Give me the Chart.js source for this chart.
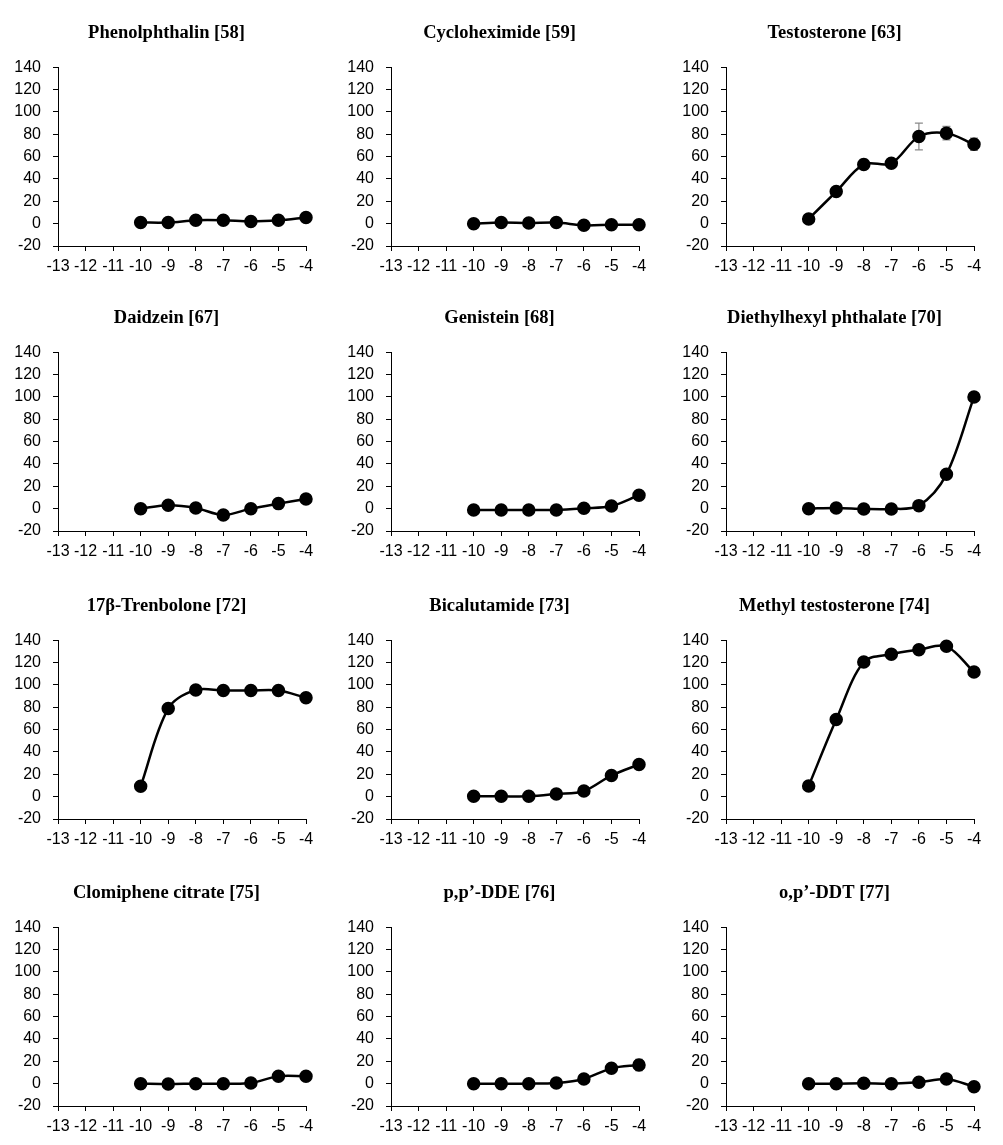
<!DOCTYPE html>
<html>
<head>
<meta charset="utf-8">
<script src="https://cdn.jsdelivr.net/npm/chart.js@4.4.0/dist/chart.umd.min.js"></script>
<style>
  body { margin: 0; background: #fff; }
  #wrap { position: relative; width: 1003px; height: 1145px; }
  .panel { position: absolute; }
</style>
</head>
<body>
<div id="wrap"></div>
<script>
// log concentration (M) for every compound
const concentrations = [-10, -9, -8, -7, -6, -5, -4];
const xTicks = [-13, -12, -11, -10, -9, -8, -7, -6, -5, -4];
const yTicks = [-20, 0, 20, 40, 60, 80, 100, 120, 140];

// responses
const phenolphthalin = [1, 1, 3, 3, 2, 3, 5.5];
const cycloheximide = [0, 1, 0.6, 1, -1.5, -1, -1];
const testosterone = [4.2, 28.7, 53, 54, 78, 81, 71];
const daidzein = [0, 3, 0.6, -5.7, 0, 4.5, 8.7];
const genistein = [-1.2, -1.2, -1.2, -1.2, 0.3, 2.4, 12];
const dehp = [0, 0.6, -0.3, -0.3, 2.7, 30.7, 100];
const trenbolone = [9.3, 78.8, 95.5, 95, 95, 95, 88.5];
const bicalutamide = [0.3, 0.3, 0.3, 2.4, 5, 19, 28.8];
const methylTestosterone = [9.6, 69, 120.5, 127.5, 131.5, 134.5, 111.5];
const clomiphene = [0, -0.3, 0, 0, 0.6, 6.6, 6.6];
const ppDDE = [0, 0, 0, 0.6, 4.2, 13.7, 16.7];
const opDDT = [0, 0, 0.3, 0, 1.2, 4.2, -2.7];

// error bars (half width), where visible
const testosteroneErr = [1, 3.5, 4.5, 0, 12, 6, 5.5];
const ppDDEErr = [0, 0, 0, 0, 0, 1, 5];

const panels = [
  { title: 'Phenolphthalin [58]', values: phenolphthalin },
  { title: 'Cycloheximide [59]', values: cycloheximide },
  { title: 'Testosterone [63]', values: testosterone, err: testosteroneErr },
  { title: 'Daidzein [67]', values: daidzein },
  { title: 'Genistein [68]', values: genistein },
  { title: 'Diethylhexyl phthalate [70]', values: dehp },
  { title: '17β-Trenbolone [72]', values: trenbolone },
  { title: 'Bicalutamide [73]', values: bicalutamide },
  { title: 'Methyl testosterone [74]', values: methylTestosterone },
  { title: 'Clomiphene citrate [75]', values: clomiphene },
  { title: 'p,p’-DDE [76]', values: ppDDE, err: ppDDEErr },
  { title: 'o,p’-DDT [77]', values: opDDT }
];

const colLeft = [0, 333, 668];
const rowTop = [0, 285, 573, 860];

// draws grey error bars behind the points
const errorBars = {
  id: 'errorBars',
  beforeDatasetsDraw(chart, args, opts) {
    const err = opts.values;
    if (!err) return;
    const { ctx, scales: { x, y } } = chart;
    ctx.save();
    ctx.strokeStyle = '#8a8a8a';
    ctx.lineWidth = 1.2;
    chart.data.datasets[0].data.forEach((p, i) => {
      if (!err[i]) return;
      const px = x.getPixelForValue(p.x);
      const top = y.getPixelForValue(p.y + err[i]);
      const bot = y.getPixelForValue(p.y - err[i]);
      ctx.beginPath();
      ctx.moveTo(px, top); ctx.lineTo(px, bot);
      ctx.moveTo(px - 4, top); ctx.lineTo(px + 4, top);
      ctx.moveTo(px - 4, bot); ctx.lineTo(px + 4, bot);
      ctx.stroke();
    });
    ctx.restore();
  }
};

// title is centred on the whole panel, not on the padded layout box
const centerTitle = {
  id: 'centerTitle',
  afterLayout(chart) {
    if (chart.titleBlock) {
      chart.titleBlock.left = 0;
      chart.titleBlock.right = chart.width;
    }
  }
};

const tickFont = { family: 'Liberation Sans', size: 16 };

panels.forEach((p, i) => {
  const canvas = document.createElement('canvas');
  canvas.className = 'panel';
  canvas.width = 333;
  canvas.height = 285;
  canvas.style.left = colLeft[i % 3] + 'px';
  canvas.style.top = rowTop[Math.floor(i / 3)] + 'px';
  document.getElementById('wrap').appendChild(canvas);

  new Chart(canvas.getContext('2d'), {
    type: 'line',
    data: {
      datasets: [{
        data: concentrations.map((c, k) => ({ x: c, y: p.values[k] })),
        borderColor: '#000',
        borderWidth: 2.5,
        backgroundColor: '#000',
        pointBackgroundColor: '#000',
        pointBorderColor: '#000',
        pointRadius: 5.5,
        tension: 0.33,
        fill: false,
        clip: false
      }]
    },
    options: {
      responsive: false,
      animation: false,
      layout: { padding: { top: 0, left: 0, right: 27, bottom: 0 } },
      plugins: {
        legend: { display: false },
        tooltip: { enabled: false },
        title: {
          display: true,
          text: p.title,
          color: '#000',
          font: { family: 'Liberation Serif', size: 18.5, weight: 'bold' },
          padding: { top: 22, bottom: 23 }
        },
        errorBars: { values: p.err }
      },
      scales: {
        x: {
          type: 'linear',
          min: xTicks[0],
          max: xTicks[xTicks.length - 1],
          afterBuildTicks: s => { s.ticks = xTicks.map(v => ({ value: v })); },
          ticks: { color: '#000', font: tickFont, padding: 6, maxRotation: 0, autoSkip: false },
          grid: { drawOnChartArea: false, drawTicks: true, tickLength: 5, color: '#000' },
          border: { color: '#000', width: 1 },
          afterFit: s => { s.height = 39; }
        },
        y: {
          min: yTicks[0],
          max: yTicks[yTicks.length - 1],
          afterBuildTicks: s => { s.ticks = yTicks.map(v => ({ value: v })); },
          ticks: { color: '#000', font: tickFont, padding: 12 },
          grid: { drawOnChartArea: false, drawTicks: true, tickLength: 5, color: '#000' },
          border: { color: '#000', width: 1 },
          afterFit: s => { s.width = 58; }
        }
      }
    },
    plugins: [errorBars, centerTitle]
  });
});
</script>
</body>
</html>
